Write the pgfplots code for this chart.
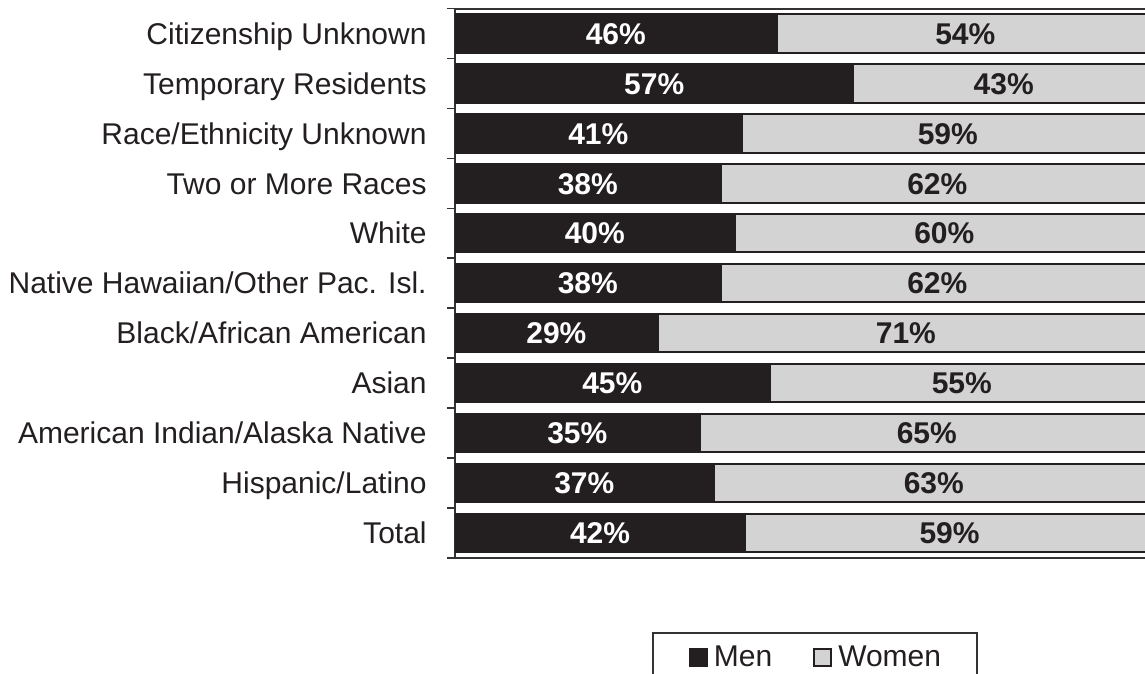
\documentclass[border=0pt]{standalone}
\usepackage{pgfplots}
\pgfplotsset{compat=1.18}
\usepackage{fontspec}
\setmainfont{Liberation Sans}
\definecolor{menc}{HTML}{231F20}
\definecolor{womc}{HTML}{D3D3D3}
\definecolor{linec}{HTML}{333333}

\pgfplotsset{
 myframe/.style={scale only axis, width=349.5pt, height=274.5pt,
   xmin=0, xmax=100, ymin=-0.5, ymax=10.5,
   enlarge x limits=false, enlarge y limits=false},
}

\begin{document}
\begin{tikzpicture}
\useasboundingbox (-227.5pt,-57.75pt) rectangle (345pt,278.85pt);
\begin{axis}[myframe,
  xbar stacked, bar width=19.2pt,
  xtick=\empty,
  ytick={0,...,10},
  yticklabels={Total, Hispanic/Latino, American Indian/Alaska Native, Asian,
    Black/African American, Native Hawaiian/Other Pac. Isl., White,
    Two or More Races, Race/Ethnicity Unknown, Temporary Residents,
    Citizenship Unknown},
  major tick length=0pt,
  minor ytick={-0.5,0.5,...,10.5},
  minor tick length=4pt,
  tick align=outside, ytick pos=left,
  axis line style={draw=linec, line width=1pt},
  every minor tick/.style={draw=linec, line width=0.8pt},
  yticklabel style={font=\fontsize{15pt}{18pt}\selectfont, inner sep=0pt,
    text height=10.7pt, text depth=0pt, xshift=-14pt, text=menc},
  legend style={at={(0.515,-0.136)}, anchor=north, legend columns=2,
    draw=linec, line width=0.8pt, inner xsep=18pt, inner ysep=6.4pt,
    font=\fontsize{15pt}{18pt}\selectfont, text=menc,
    nodes={inner sep=0pt},
    /tikz/every odd column/.append style={column sep=3pt},
    /tikz/every even column/.append style={column sep=20.5pt}},
  legend image code/.code={\draw[#1] (0pt,-4.25pt) rectangle (8.5pt,4.25pt);},
]
\addplot[fill=menc, draw=menc, line width=1pt] coordinates {
 (41.5,0) (37,1) (35,2) (45,3) (29,4) (38,5) (40,6) (38,7) (41,8) (57,9) (46,10)};
\addplot[fill=womc, draw=menc, line width=1pt] coordinates {
 (58.5,0) (63,1) (65,2) (55,3) (71,4) (62,5) (60,6) (62,7) (59,8) (43,9) (54,10)};
\legend{Men, Women}
\end{axis}
\begin{axis}[myframe, hide axis, clip=false]
\addplot[draw=none, mark=none, nodes near coords, point meta=explicit symbolic,
  nodes near coords align=center,
  every node near coord/.append style={text=white, inner sep=0pt,
    font=\bfseries\fontsize{15pt}{18pt}\selectfont, text height=10.7pt, text depth=0pt}]
 coordinates {
 (20.75,0) [42\%] (18.5,1) [37\%] (17.5,2) [35\%] (22.5,3) [45\%] (14.5,4) [29\%]
 (19,5) [38\%] (20,6) [40\%] (19,7) [38\%] (20.5,8) [41\%] (28.5,9) [57\%] (23,10) [46\%]};
\addplot[draw=none, mark=none, nodes near coords, point meta=explicit symbolic,
  nodes near coords align=center,
  every node near coord/.append style={text=menc, inner sep=0pt,
    font=\bfseries\fontsize{15pt}{18pt}\selectfont, text height=10.7pt, text depth=0pt}]
 coordinates {
 (70.75,0) [59\%] (68.5,1) [63\%] (67.5,2) [65\%] (72.5,3) [55\%] (64.5,4) [71\%]
 (69,5) [62\%] (70,6) [60\%] (69,7) [62\%] (70.5,8) [59\%] (78.5,9) [43\%] (73,10) [54\%]};
\end{axis}
\end{tikzpicture}
\end{document}
